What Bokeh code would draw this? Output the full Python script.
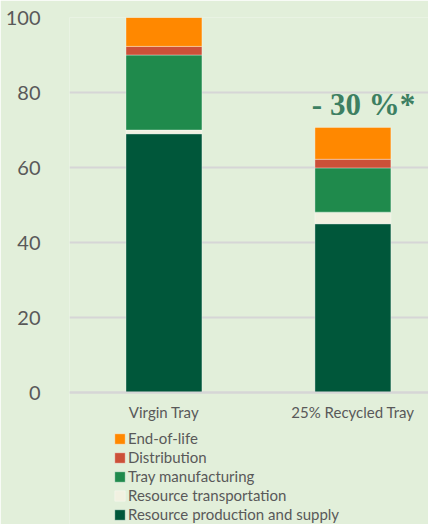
from bokeh.plotting import figure
from bokeh.models import Range1d, FixedTicker, Legend, LegendItem, Label, ColumnDataSource
from bokeh.embed import file_html
from bokeh.resources import INLINE

categories = ["Virgin Tray", "25% Recycled Tray"]
stages = ["Resource production and supply", "Resource transportation",
          "Tray manufacturing", "Distribution", "End-of-life"]
production = [69.0, 45.0]
transportation = [1.0, 3.1]
manufacturing = [20.0, 11.8]
distribution = [2.3, 2.3]
end_of_life = [7.7, 8.5]
stage_colors = ["#00573A", "#F1F1E1", "#1F8A4C", "#CC5038", "#FF8800"]
y_ticks = [0, 20, 40, 60, 80, 100]
annotation = "- 30 %*"

BG = "#E2EFDA"
TXT = "#595959"
FONT = "Lato"

xs = [i + 0.5 for i in range(len(categories))]
source = ColumnDataSource(dict(
    x=xs,
    production=production,
    transportation=transportation,
    manufacturing=manufacturing,
    distribution=distribution,
    end_of_life=end_of_life,
))
keys = ["production", "transportation", "manufacturing", "distribution", "end_of_life"]

# frame covers the legend area too; y range extends below 0 for it
p = figure(width=428, height=524, output_backend="svg", toolbar_location=None,
           x_range=Range1d(0, 1.9), y_range=Range1d(-35.2, 100),
           min_border_left=69, min_border_right=0, min_border_top=17, min_border_bottom=0,
           background_fill_color=BG, border_fill_color=BG, outline_line_color=None)

renderers = p.vbar_stack(keys, x="x", width=0.402, source=source, color=stage_colors,
                         line_color="white", line_alpha=0.35, line_width=1)

# axes
p.yaxis.ticker = FixedTicker(ticks=y_ticks)
p.yaxis.axis_line_color = None
p.yaxis.major_tick_line_color = None
p.yaxis.minor_tick_line_color = None
p.yaxis.major_label_standoff = 23
p.yaxis.major_label_text_font = FONT
p.yaxis.major_label_text_font_size = "20px"
p.yaxis.major_label_text_color = TXT

p.xaxis.fixed_location = 0
p.xaxis.ticker = FixedTicker(ticks=xs)
p.xaxis.major_label_overrides = {x: c for x, c in zip(xs, categories)}
p.xaxis.axis_line_color = "#D6D6D6"
p.xaxis.axis_line_width = 2
p.xaxis.major_tick_line_color = None
p.xaxis.minor_tick_line_color = None
p.xaxis.major_label_standoff = 4
p.xaxis.major_label_text_font = FONT
p.xaxis.major_label_text_font_size = "15px"
p.xaxis.major_label_text_color = TXT

p.xgrid.visible = False
p.ygrid.grid_line_color = "#D6D6D6"
p.ygrid.grid_line_width = 2

# legend (reverse stack order), placed below the bars
items = [LegendItem(label=s, renderers=[r]) for s, r in zip(stages, renderers)][::-1]
legend = Legend(items=items, location=(44, 1), orientation="vertical",
                background_fill_alpha=0, border_line_color=None,
                padding=0, margin=0, spacing=1,
                glyph_width=13, glyph_height=13, label_height=17, label_standoff=2,
                label_text_font=FONT, label_text_font_size="15px", label_text_color=TXT)
p.add_layout(legend, "center")

p.add_layout(Label(x=1.556, y=76.7, text=annotation, text_align="center",
                   text_baseline="alphabetic", text_font="Liberation Serif",
                   text_font_style="bold", text_font_size="31px", text_color="#3D7F62"))

open("out.html", "w").write(file_html(p, INLINE))
